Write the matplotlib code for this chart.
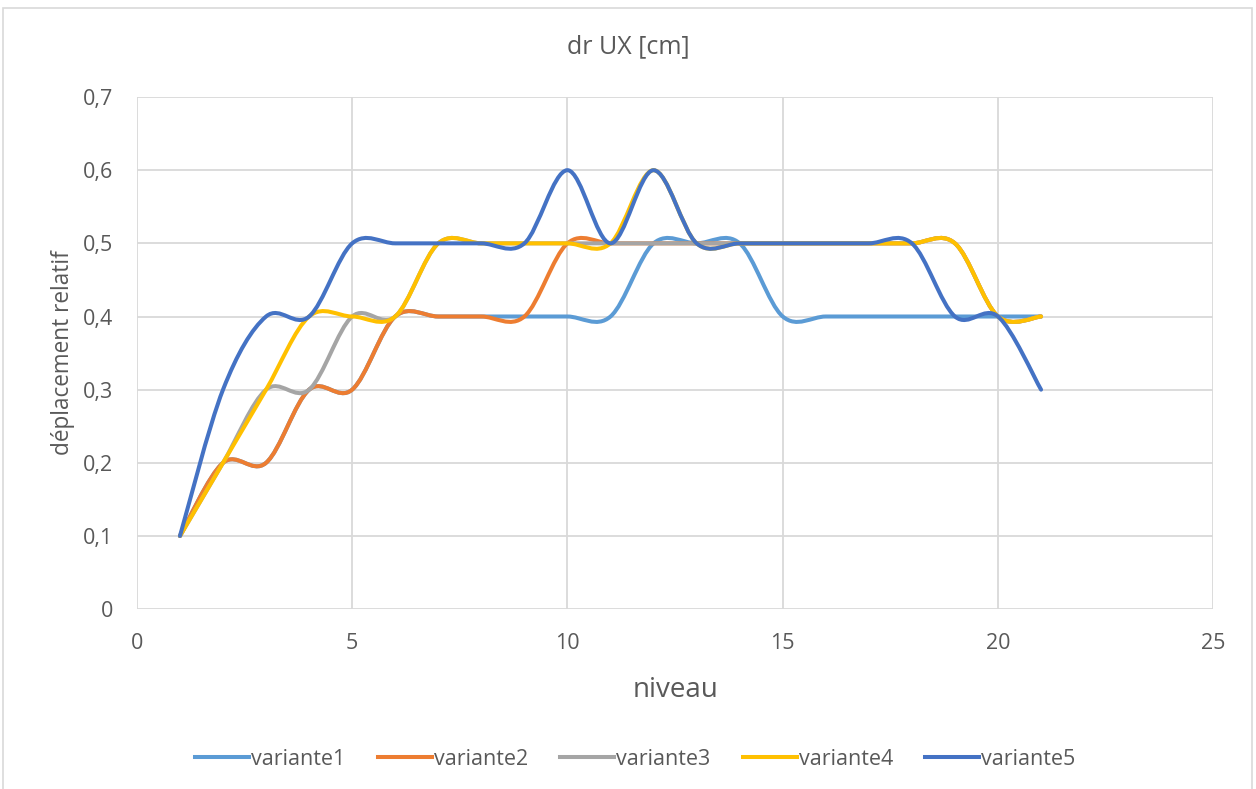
import numpy as np
import matplotlib.pyplot as plt
from matplotlib.path import Path
from matplotlib.patches import PathPatch, Rectangle
from matplotlib.lines import Line2D
from matplotlib.ticker import FuncFormatter

plt.rcParams['font.family'] = ['Open Sans', 'DejaVu Sans']

# niveaux et déplacements relatifs (cm)
niveau = list(range(1, 22))
variante1 = [0.1, 0.2, 0.2, 0.3, 0.3, 0.4, 0.4, 0.4, 0.4, 0.4, 0.4,
             0.5, 0.5, 0.5, 0.4, 0.4, 0.4, 0.4, 0.4, 0.4, 0.4]
variante2 = [0.1, 0.2, 0.2, 0.3, 0.3, 0.4, 0.4, 0.4, 0.4, 0.5, 0.5,
             0.5, 0.5, 0.5, 0.5, 0.5, 0.5, 0.5, 0.5, 0.4, 0.4]
variante3 = [0.1, 0.2, 0.3, 0.3, 0.4, 0.4, 0.5, 0.5, 0.5, 0.5, 0.5,
             0.5, 0.5, 0.5, 0.5, 0.5, 0.5, 0.5, 0.5, 0.4, 0.4]
variante4 = [0.1, 0.2, 0.3, 0.4, 0.4, 0.4, 0.5, 0.5, 0.5, 0.5, 0.5,
             0.6, 0.5, 0.5, 0.5, 0.5, 0.5, 0.5, 0.5, 0.4, 0.4]
variante5 = [0.1, 0.3, 0.4, 0.4, 0.5, 0.5, 0.5, 0.5, 0.5, 0.6, 0.5,
             0.6, 0.5, 0.5, 0.5, 0.5, 0.5, 0.5, 0.4, 0.4, 0.3]

series = {
    'variante1': variante1,
    'variante2': variante2,
    'variante3': variante3,
    'variante4': variante4,
    'variante5': variante5,
}
colours = ['#5B9BD5', '#ED7D31', '#A5A5A5', '#FFC000', '#4472C4']
text_col = '#595959'
grid_col = '#D9D9D9'


def smooth_path(x, y):
    # Bezier segments like a spreadsheet "smoothed line"
    pts = np.column_stack([x, y]).astype(float)
    padded = np.vstack([pts[0], pts, pts[-1]])
    verts = [pts[0]]
    codes = [Path.MOVETO]
    for i in range(len(pts) - 1):
        p0, p1, p2, p3 = padded[i], padded[i + 1], padded[i + 2], padded[i + 3]
        c1 = p1 + (p2 - p0) / 6.0
        c2 = p2 - (p3 - p1) / 6.0
        verts += [c1, c2, p2]
        codes += [Path.CURVE4] * 3
    return Path(verts, codes)


fig = plt.figure(figsize=(12.56, 7.89), dpi=100)
ax = fig.add_axes([0.109, 0.228, 0.857, 0.649])

handles = []
for (name, vals), col in zip(series.items(), colours):
    patch = PathPatch(smooth_path(niveau, vals), facecolor='none', edgecolor=col,
                      lw=2.9, capstyle='round', joinstyle='round', zorder=3)
    ax.add_patch(patch)
    handles.append(Line2D([], [], color=col, lw=2.9, label=name))

ax.set_xlim(0, 25)
ax.set_ylim(0, 0.7)
ax.set_xticks(np.arange(0, 26, 5))
ax.set_yticks(np.arange(0, 0.71, 0.1))
ax.yaxis.set_major_formatter(FuncFormatter(lambda v, p: '0' if abs(v) < 1e-9 else f'{v:.1f}'.replace('.', ',')))
ax.grid(True, color=grid_col, lw=1.3)
ax.set_axisbelow(True)
for s in ax.spines.values():
    s.set_visible(False)
ax.tick_params(length=0, labelsize=15.5, labelcolor=text_col)
ax.tick_params(axis='x', pad=17)
ax.tick_params(axis='y', pad=17)

fig.text(0.5, 1 - 47 / 789, 'dr UX [cm]', fontsize=18, color=text_col,
         ha='center', va='center')
ax.set_xlabel('niveau', fontsize=20, color=text_col, labelpad=16)
ax.set_ylabel('déplacement relatif', fontsize=16.3, color=text_col, labelpad=6)

fig.legend(handles=handles, loc='center', bbox_to_anchor=(0.506, 0.038), ncol=5,
           frameon=False, fontsize=15.5, labelcolor=text_col, handlelength=2.5,
           handletextpad=0.1, columnspacing=1.5)

fig.patches.append(Rectangle((3 / 1256, -0.01), 1249 / 1256, 1 - 8 / 789 + 0.01,
                             transform=fig.transFigure, fill=False,
                             edgecolor=grid_col, lw=1.2))

fig.savefig('out.png', dpi=100)
